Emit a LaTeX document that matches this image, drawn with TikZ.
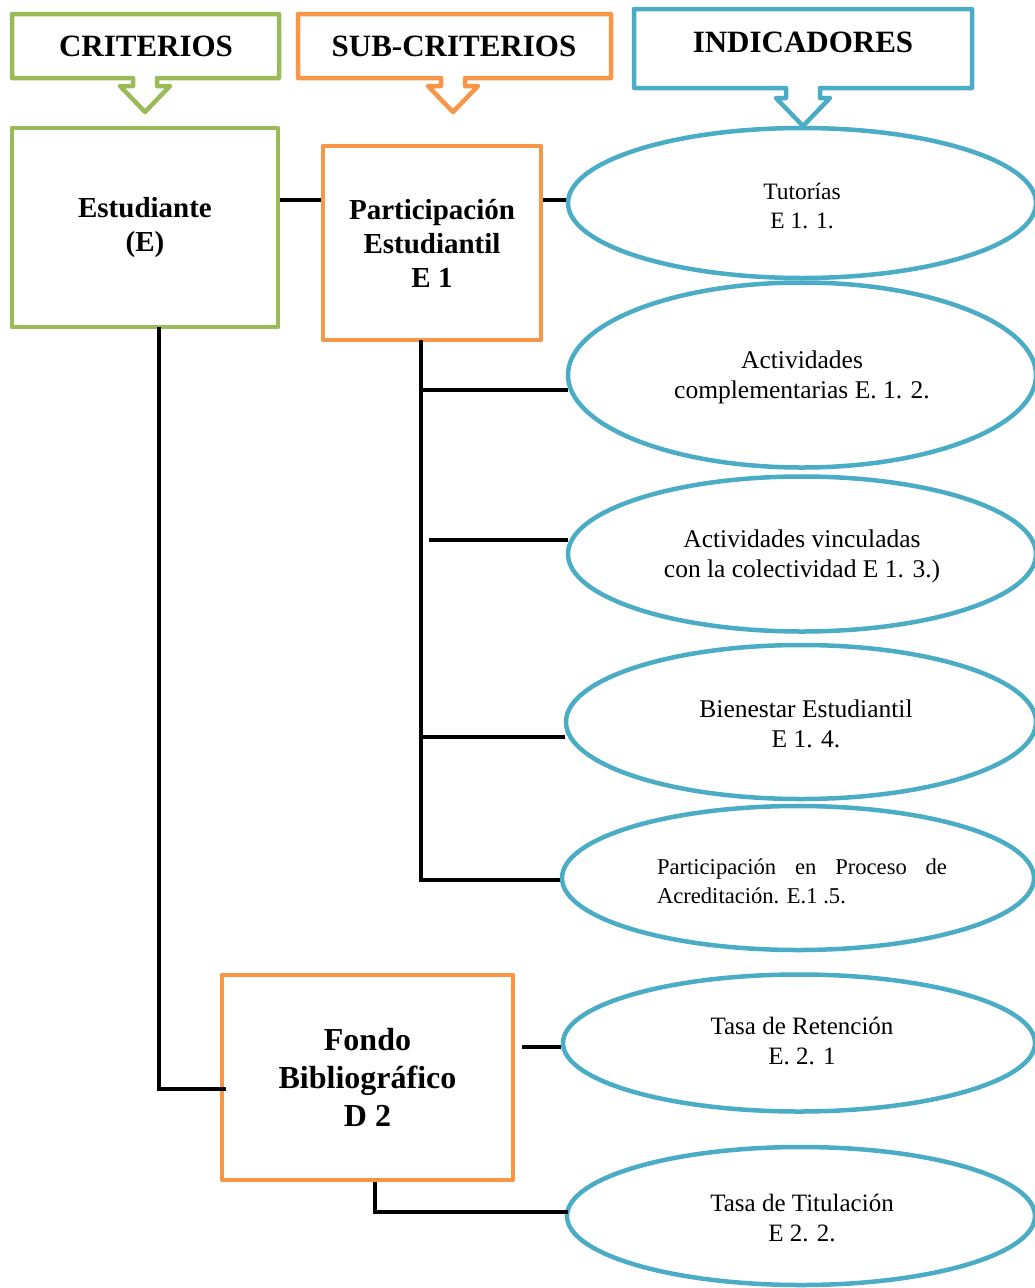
\documentclass[tikz,border=0pt]{standalone}
\usepackage{fontspec}
\setmainfont{Liberation Serif}
\usetikzlibrary{shapes.geometric}

\definecolor{critgreen}{HTML}{9BBB59}
\definecolor{suborange}{HTML}{F79646}
\definecolor{indblue}{HTML}{4BACC6}

\begin{document}
\begin{tikzpicture}[x=1pt, y=-1pt, line width=4.5pt, line join=round]
        \tikzstyle{every node}=[inner sep=0pt, align=center]
        \tikzstyle{head}=[font=\fontsize{31}{37}\selectfont\bfseries]
        \tikzstyle{critbox}=[draw=critgreen, rectangle, font=\fontsize{29}{34}\selectfont\bfseries]
        \tikzstyle{subbox}=[draw=suborange, rectangle, font=\fontsize{29}{34}\selectfont\bfseries]
        \tikzstyle{indic}=[draw=indblue, ellipse, font=\fontsize{25.5}{30}\selectfont]
        \tikzstyle{link}=[draw=black, line width=4.5pt, line join=miter]
        \useasboundingbox (0,0) rectangle (1034,1288);

        % cabeceras con flecha
        \draw[critgreen] (12,14) -- (279,14) -- (279,78) -- (157,78) -- (157,86) -- (170,86) -- (145,112) -- (120,86) -- (133,86) -- (133,78) -- (12,78) -- cycle;
        \draw[suborange] (298,14) -- (611,14) -- (611,78) -- (465,78) -- (465,86) -- (478,86) -- (453,112) -- (428,86) -- (441,86) -- (441,78) -- (298,78) -- cycle;
        \draw[indblue] (634,9) -- (972,9) -- (972,88) -- (820,88) -- (820,98) -- (830,98) -- (803,126) -- (776,98) -- (786,98) -- (786,88) -- (634,88) -- cycle;
        \node[head] (crit) at (146,46) {CRITERIOS};
        \node[head] (sub) at (454,46) {SUB-CRITERIOS};
        \node[head] (ind) at (803,42) {INDICADORES};

        % criterios y sub-criterios
        \node[critbox, minimum width=266pt, minimum height=199pt] (est) at (145,227.5) {Estudiante\\(E)};
        \node[subbox, minimum width=218pt, minimum height=194pt] (part) at (432,243) {Participación\\Estudiantil\\E 1};
        \node[subbox, minimum width=291pt, minimum height=205pt, font=\fontsize{32}{38}\selectfont\bfseries] (fondo) at (367.5,1077.5) {Fondo\\Bibliográfico\\D 2};

        % indicadores
        \node[indic, minimum width=468pt, minimum height=150pt, font=\fontsize{23.5}{29}\selectfont] (e1) at (802,203) {};
        \node (e1t) at (802,206) [font=\fontsize{23.5}{29}\selectfont] {Tutorías\\E 1. 1.};
        \node[indic, minimum width=468pt, minimum height=185pt] (e2) at (802,375) {};
        \node (e2t) at (802,377) [font=\fontsize{25.5}{30}\selectfont] {Actividades\\complementarias E. 1. 2.};
        \node[indic, minimum width=468pt, minimum height=155pt] (e3) at (802,554) {};
        \node (e3t) at (802,556) [font=\fontsize{25.5}{30}\selectfont] {Actividades vinculadas\\con la colectividad E 1. 3.)};
        \node[indic, minimum width=470pt, minimum height=154pt] (e4) at (801,722) {};
        \node (e4t) at (806,724) [font=\fontsize{25.5}{30}\selectfont] {Bienestar Estudiantil\\E 1. 4.};
        \node[indic, minimum width=472pt, minimum height=144pt] (e5) at (798,878) {};
        \node[font=\fontsize{22.6}{29}\selectfont, text width=290pt, align=justify] (e5t) at (802,881) {Participación en Proceso de\linebreak Acreditación. E.1 .5.};
        \node[indic, minimum width=472pt, minimum height=137pt] (e6) at (799,1043) {};
        \node (e6t) at (802,1041) [font=\fontsize{25}{30}\selectfont] {Tasa de Retención\\E. 2. 1};
        \node[indic, minimum width=468pt, minimum height=138pt] (e7) at (801,1216) {};
        \node (e7t) at (802,1218) [font=\fontsize{25}{30}\selectfont] {Tasa de Titulación\\E 2. 2.};

        % conectores
        \coordinate (trunk) at (421,340);
        \coordinate (root) at (159,327);
        \draw[link] (est.east |- 0,200) -- (part.west |- 0,200);
        \draw[link] (part.east |- 0,200) -- (e1.west |- 0,200);
        \draw[link] (trunk) -- (trunk |- 0,880) -- (e5.west |- 0,880);
        \draw[link] (trunk |- 0,390) -- ([xshift=2pt]e2.west |- 0,390);
        \draw[link] ([xshift=8pt]trunk |- 0,540) -- ([xshift=2pt]e3.west |- 0,540);
        \draw[link] (trunk |- 0,737) -- ([xshift=1pt]e4.west |- 0,737);
        \draw[link] (root) -- (root |- 0,1089) -- ([xshift=6pt]fondo.west |- 0,1089);
        \draw[link] ([xshift=7pt]fondo.east |- 0,1047) -- (e6.west |- 0,1047);
        \draw[link] (fondo.south -| 375,0) -- (375,1212) -- ([xshift=3pt]e7.west |- 0,1212);
    \end{tikzpicture}
\end{document}
